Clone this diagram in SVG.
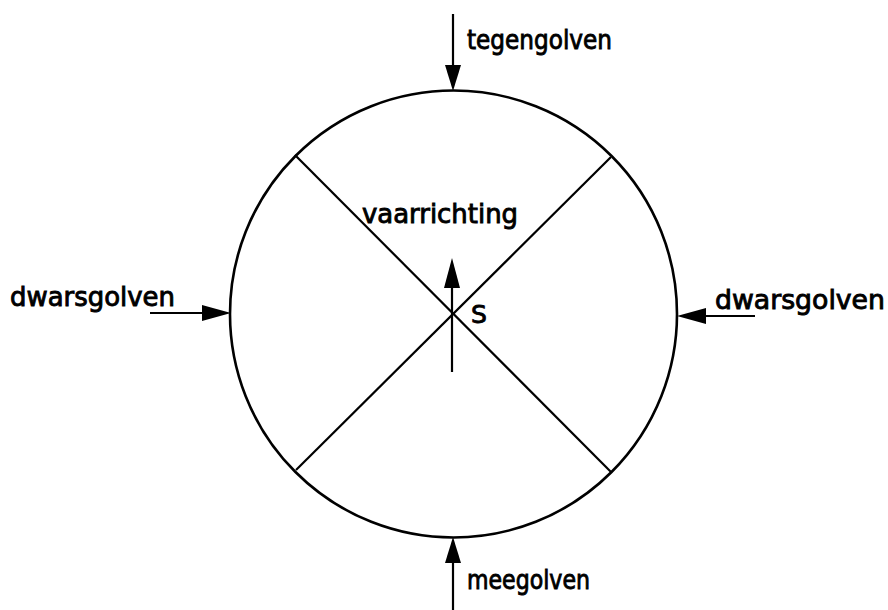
<svg xmlns="http://www.w3.org/2000/svg" width="888" height="610" viewBox="0 0 888 610">
<defs>
<style>
.l{stroke:#000;stroke-width:2.2;fill:none}
.t{font-family:"DejaVu Sans",sans-serif;font-size:26px;fill:#000;stroke:#000;stroke-width:0.9}
.h{fill:#000}
</style>
</defs>
<rect width="888" height="610" fill="#fff"/>
<g id="circle">
<circle cx="453.5" cy="314" r="223.5" fill="none" stroke="#000" stroke-width="2.6"/>
<line class="l" x1="295" y1="155" x2="611" y2="472"/>
<line class="l" x1="611" y1="157" x2="296" y2="470"/>
</g>
<g id="connectors">
<line class="l" x1="453" y1="14" x2="453" y2="70"/>
<polygon class="h" points="445,65 461,65 453,91"/>
<line class="l" x1="453" y1="610" x2="453" y2="560"/>
<polygon class="h" points="445,563 461,563 453,537"/>
<line class="l" x1="150" y1="313" x2="206" y2="313"/>
<polygon class="h" points="202,305 202,321 231,313"/>
<line class="l" x1="755" y1="316" x2="702" y2="316"/>
<polygon class="h" points="706,308 706,324 677,316"/>
<line class="l" x1="452" y1="372" x2="452" y2="285"/>
<polygon class="h" points="444,288 460,288 452,258"/>
</g>
<g id="tegengolven"><text class="t" x="467" y="49" textLength="145" lengthAdjust="spacingAndGlyphs">tegengolven</text></g>
<g id="vaarrichting"><text class="t" x="362" y="223" textLength="156" lengthAdjust="spacingAndGlyphs">vaarrichting</text></g>
<g id="S"><text class="t" x="471" y="323" style="font-size:25px">S</text></g>
<g id="dwars-links"><text class="t" x="10" y="306" textLength="165" lengthAdjust="spacingAndGlyphs">dwarsgolven</text></g>
<g id="dwars-rechts"><text class="t" x="715" y="309" textLength="170" lengthAdjust="spacingAndGlyphs">dwarsgolven</text></g>
<g id="meegolven"><text class="t" x="467" y="589" textLength="123" lengthAdjust="spacingAndGlyphs">meegolven</text></g>
</svg>
